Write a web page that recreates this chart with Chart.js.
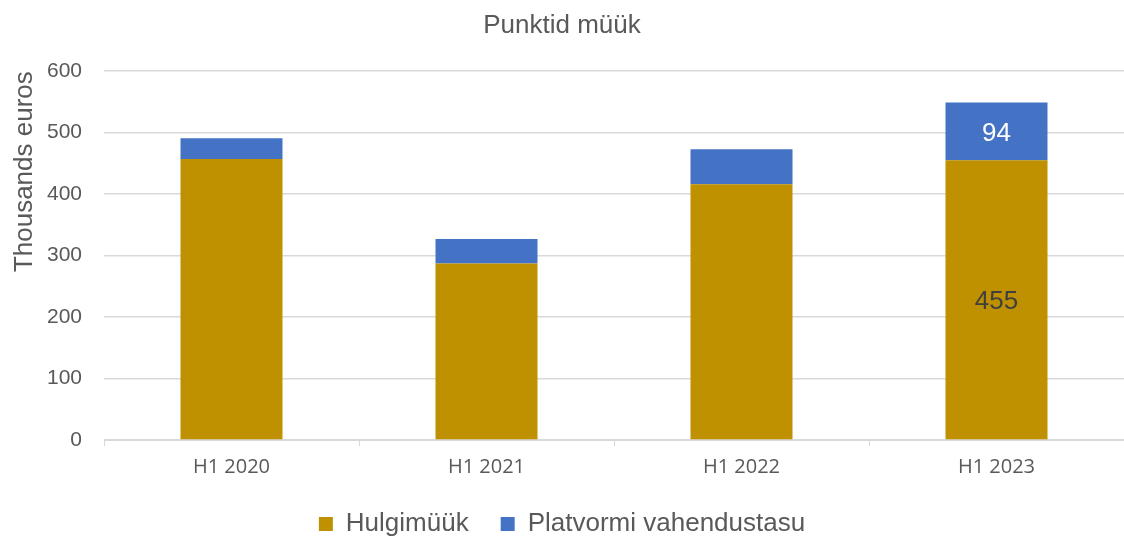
<!DOCTYPE html>
<html>
<head>
<meta charset="utf-8">
<script src="https://cdn.jsdelivr.net/npm/chart.js@4"></script>
<style>
    body { margin: 0; background: #fff; }
    #wrap { width: 1124px; height: 538px; }
</style>
</head>
<body>
<div id="wrap"><canvas id="salesChart"></canvas></div>
<script>
const periods = ['H1 2020', 'H1 2021', 'H1 2022', 'H1 2023'];
const wholesale = [457, 287, 416, 455];
const platformFee = [34, 40, 57, 94];
// labels shown only on the last bar, as in the source
const wholesaleLabels = [null, null, null, '455'];
const platformLabels = [null, null, null, '94'];

const textGray = '#595959';
const sans = '"Liberation Sans", Arial, sans-serif';

// Draw the segment labels in the middle of each bar piece
const segmentLabels = {
    id: 'segmentLabels',
    afterDatasetsDraw(chart) {
        const ctx = chart.ctx;
        chart.data.datasets.forEach((ds, i) => {
            const meta = chart.getDatasetMeta(i);
            meta.data.forEach((bar, j) => {
                const txt = ds.segLabels[j];
                if (!txt) return;
                ctx.save();
                ctx.font = '26px ' + sans;
                ctx.fillStyle = ds.segColor;
                ctx.textAlign = 'center';
                ctx.textBaseline = 'middle';
                ctx.fillText(txt, bar.x, (bar.y + bar.base) / 2 + 2);
                ctx.restore();
            });
        });
    }
};

new Chart(document.getElementById('salesChart'), {
    type: 'bar',
    data: {
        labels: periods,
        datasets: [
            {
                label: 'Hulgimüük',
                data: wholesale,
                backgroundColor: '#bf9000',
                segLabels: wholesaleLabels,
                segColor: '#404040'
            },
            {
                label: 'Platvormi vahendustasu',
                data: platformFee,
                backgroundColor: '#4472c4',
                segLabels: platformLabels,
                segColor: '#ffffff'
            }
        ]
    },
    options: {
        responsive: true,
        maintainAspectRatio: false,
        animation: false,
        layout: { padding: 0 },
        datasets: { bar: { barPercentage: 0.8, categoryPercentage: 0.5 } },
        plugins: {
            title: {
                display: true,
                text: 'Punktid müük',
                color: textGray,
                font: { family: sans, size: 26, weight: 'normal' },
                padding: { top: 10, bottom: 30 }
            },
            legend: {
                position: 'bottom',
                maxHeight: 59,
                labels: {
                    color: textGray,
                    font: { family: sans, size: 26 },
                    boxWidth: 14,
                    boxHeight: 14,
                    padding: 32
                }
            },
            tooltip: { enabled: false }
        },
        scales: {
            x: {
                stacked: true,
                grid: { display: true, drawOnChartArea: false, color: '#d9d9d9', tickLength: 6 },
                border: { color: '#d9d9d9' },
                ticks: {
                    color: textGray,
                    font: { family: '"Open Sans", sans-serif', size: 20 },
                    padding: 9
                },
                afterFit(scale) {
                    scale.height = 39;
                }
            },
            y: {
                stacked: true,
                min: 0,
                max: 600,
                ticks: {
                    stepSize: 100,
                    color: textGray,
                    font: { family: sans, size: 21 },
                    padding: 22
                },
                grid: { color: '#d9d9d9', lineWidth: 1.5, drawTicks: false },
                border: { display: false },
                title: {
                    display: true,
                    text: 'Thousands euros',
                    align: 'end',
                    color: textGray,
                    font: { family: sans, size: 26 },
                    padding: { top: 9, bottom: 0 }
                },
                afterFit(scale) {
                    scale.width = 104;
                }
            }
        }
    },
    plugins: [segmentLabels]
});
</script>
</body>
</html>
